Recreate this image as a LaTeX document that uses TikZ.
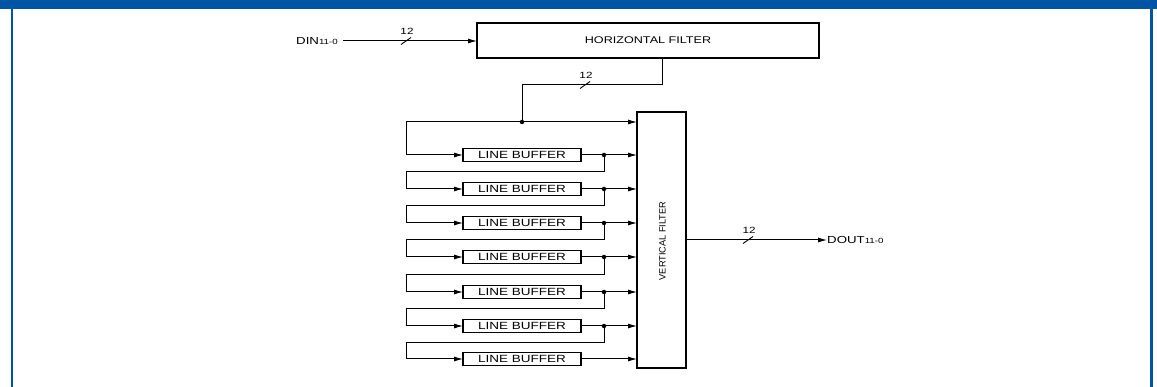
\documentclass[tikz,border=0pt]{standalone}
\usepackage{fontspec}
\setmainfont{Liberation Sans}
\newfontfamily\widefont[FakeStretch=1.3]{Liberation Sans}
\usetikzlibrary{arrows.meta,calc}
\definecolor{hdrblue}{RGB}{0,84,164}
\tikzset{
  wire/.style={line width=1pt},
  arr/.style={wire,-{Latex[length=9pt,width=5pt]}},
  blk/.style={draw,line width=1.2pt,inner sep=0pt,outer sep=0pt},
  lbuf/.style={blk,minimum width=118pt,minimum height=13pt,font=\widefont\fontsize{10.4}{10.4}\selectfont},
  dot/.style={circle,fill,inner sep=0pt,minimum size=4.5pt},
  slash/.style={line width=0.9pt},
  buslabel/.style={font=\widefont\fontsize{9}{9}\selectfont,inner sep=0pt},
  iolabel/.style={font=\widefont\fontsize{10.2}{10.2}\selectfont,inner sep=0pt}
}
\begin{document}
\begin{tikzpicture}[x=1pt,y=-1pt]
\useasboundingbox (0,0) rectangle (1157,387);
% frame
\fill[hdrblue] (0,0) rectangle (1157,9);
\draw[hdrblue,line width=2.5pt] (12,9) -- (12,387);
\draw[hdrblue,line width=2.5pt] (1151.5,9) -- (1151.5,387);
% blocks
\node[blk,minimum width=342pt,minimum height=35pt,font=\widefont\fontsize{9.7}{9.7}\selectfont] (hf) at (648,40.5) {HORIZONTAL FILTER};
\node[blk,minimum width=49pt,minimum height=256pt] (vf) at (661.5,240) {};
\node[rotate=90,font=\fontsize{9.2}{9.2}\selectfont,inner sep=0pt] (vft) at (662.5,241) {VERTICAL FILTER};
\foreach \i/\y in {1/155,2/189,3/223,4/257,5/292,6/326,7/359}{
  \node[lbuf] (lb\i) at (522,\y) {LINE BUFFER};
}
% input
\node[iolabel,anchor=east] (din) at (338,41) {DIN{\fontsize{7.5}{7.5}\selectfont 11-0}};
\coordinate (dinS) at (343,41);
\draw[arr] (dinS) -- (hf.west |- dinS);
\coordinate (s1) at (406,41);
\draw[slash] ($(s1)+(-5,3.5)$) -- ($(s1)+(5,-3.5)$);
\node[buslabel] (l1) at (407,31) {12};
% horizontal filter output
\coordinate (t1) at (662,85);
\coordinate (t2) at (522,85);
\coordinate (d0) at (522,122);
\coordinate (lx) at (406,122);
\draw[wire] (hf.south -| t1) -- (t1) -- (t2) -- (d0);
\node[dot] (dd0) at (d0) {};
\draw[arr] (d0) -- (d0 -| vf.west);
\draw[arr] (d0) -- (lx) |- (lb1.west);
\coordinate (s2) at (585,85);
\draw[slash] ($(s2)+(-5,3.5)$) -- ($(s2)+(5,-3.5)$);
\node[buslabel] (l2) at (586,75) {12};
% line buffer chain
\foreach \i/\j/\y in {1/2/155,2/3/189,3/4/223,4/5/257,5/6/292,6/7/326}{
  \draw[arr] (lb\i.east) -- (lb\i.east -| vf.west);
  \coordinate (p\i) at (604,\y);
  \node[dot] (dp\i) at (p\i) {};
  \coordinate (q\i) at ($(p\i)!0.5!(p\i |- lb\j.west)$);
  \draw[arr] (p\i) -- (q\i) -- (q\i -| lx) |- (lb\j.west);
}
\draw[arr] (lb7.east) -- (lb7.east -| vf.west);
% output
\node[iolabel,anchor=west] (dout) at (827,240) {DOUT{\fontsize{7.5}{7.5}\selectfont 11-0}};
\draw[arr] (vf.east |- dout.west) -- (dout.west);
\coordinate (s3) at (748,240);
\draw[slash] ($(s3)+(-5,3.5)$) -- ($(s3)+(5,-3.5)$);
\node[buslabel] (l3) at (749,230) {12};
\end{tikzpicture}
\end{document}
